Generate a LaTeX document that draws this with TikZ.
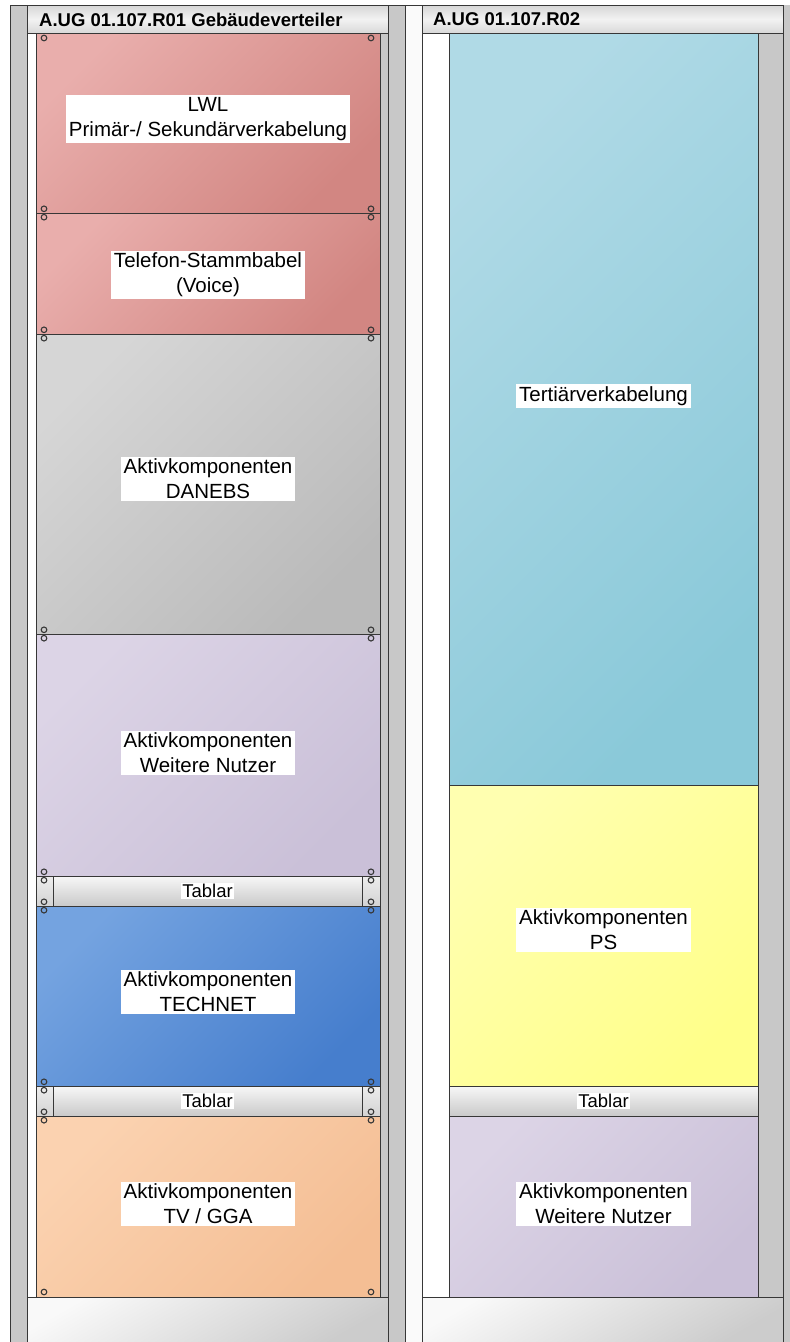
\documentclass[tikz,border=0pt]{standalone}
\usepackage{fontspec}
\setmainfont{Liberation Sans}
\usepackage{xcolor}
\usepackage{tikz}
\usetikzlibrary{calc}
\definecolor{edgegray}{RGB}{55, 55, 55}
\definecolor{postgray}{RGB}{200, 200, 200}
\definecolor{redlight}{RGB}{233, 174, 172}
\definecolor{reddark}{RGB}{210, 134, 130}
\definecolor{greylight}{RGB}{214, 214, 214}
\definecolor{greydark}{RGB}{186, 186, 186}
\definecolor{lilaclight}{RGB}{220, 212, 230}
\definecolor{lilacdark}{RGB}{202, 192, 216}
\definecolor{bluelight}{RGB}{116, 163, 224}
\definecolor{bluedark}{RGB}{70, 126, 205}
\definecolor{orangelight}{RGB}{251, 210, 176}
\definecolor{orangedark}{RGB}{244, 190, 148}
\definecolor{teallight}{RGB}{176, 218, 230}
\definecolor{tealdark}{RGB}{138, 201, 217}
\definecolor{yellowlight}{RGB}{255, 255, 176}
\definecolor{yellowdark}{RGB}{255, 255, 138}

\begin{document}
\begin{tikzpicture}[x=1pt, y=-1pt,
    panel/.style={draw=edgegray, line width=1pt, inner sep=0pt},
    leftpanel/.style={panel, minimum width=344pt},
    rightpanel/.style={panel, minimum width=309pt},
    tilt/.style={shading angle=45},
    caption/.style={fill=white, inner xsep=3pt, inner ysep=2pt, align=center, text=black,
        font=\fontsize{20.5}{25}\selectfont},
    tablarlabel/.style={fill=white, inner sep=1.5pt, text=black, font=\fontsize{18.5}{20}\selectfont},
    tablar/.style={draw=edgegray, line width=1pt, inner sep=0pt, minimum height=30pt,
        top color=gray!6, bottom color=gray!42},
    header/.style={draw=edgegray, line width=1pt, inner sep=0pt, minimum width=361pt, minimum height=28pt,
        top color=gray!32, bottom color=gray!30, middle color=gray!10},
    headertext/.style={anchor=west, inner sep=0pt, font=\fontsize{18.5}{20}\selectfont\bfseries},
    base/.style={draw=edgegray, line width=1pt, inner sep=0pt, minimum width=361pt, minimum height=45pt,
        top color=gray!5, bottom color=gray!40, shading angle=30},
    screw/.style={draw=edgegray, line width=1.1pt}]

    \useasboundingbox (0,0) rectangle (790,1342);
    \fill[white] (0,0) rectangle (790,1342);

    % Rack posts
    \draw[edgegray, line width=1pt, fill=postgray] (10,5) rectangle (27,1342);
    \draw[edgegray, line width=1pt, fill=postgray] (388,5) rectangle (405,1342);
    \draw[edgegray, line width=1pt, fill=gray!4] (405,5) rectangle (422,1342);
    \fill[postgray] (783,5) rectangle (790,1342);
    \draw[edgegray, line width=1pt] (783,5) -- (783,1342);

    % Mounting strips
    \draw[edgegray, line width=0.6pt, fill=white] (27,33) rectangle (36,1297);
    \draw[edgegray, line width=0.6pt, fill=postgray] (380,33) rectangle (388,1297);
    \draw[edgegray, line width=0.6pt, fill=white] (422,33) rectangle (449,1297);
    \draw[edgegray, line width=0.6pt, fill=postgray] (758,33) rectangle (783,1297);

    % Headers
    \node[header] (hdrA) at (207.5,19) {};
    \node[headertext] (titleA) at (39,19.5) {A.UG 01.107.R01 Gebäudeverteiler};
    \node[header] (hdrB) at (602.5,19) {};
    \node[headertext] (titleB) at (433,19.5) {A.UG 01.107.R02};

    % Rack R01
    \node[leftpanel, top color=redlight, bottom color=reddark, tilt, minimum height=180pt] (lwl) at (208,123) {};
    \node[caption] (lwlText) at (208,119) {LWL\\Primär-/ Sekundärverkabelung};

    \node[leftpanel, top color=redlight, bottom color=reddark, tilt, minimum height=121pt] (voice) at (208,273.5) {};
    \node[caption] (voiceText) at (208,275) {Telefon-Stammbabel\\(Voice)};

    \node[leftpanel, top color=greylight, bottom color=greydark, tilt, minimum height=300pt] (danebs) at (208,484) {};
    \node[caption] (danebsText) at (208,479) {Aktivkomponenten\\DANEBS};

    \node[leftpanel, top color=lilaclight, bottom color=lilacdark, tilt, minimum height=242pt] (nutzerA) at (208,755) {};
    \node[caption] (nutzerAText) at (208,753) {Aktivkomponenten\\Weitere Nutzer};

    \node[tablar, minimum width=344pt, top color=gray!14, bottom color=gray!34] (tablarA) at (208,891) {};
    \node[tablar, minimum width=309pt] (barA) at (207.5,891) {};
    \node[tablarlabel] (tablarAText) at (barA) {Tablar};

    \node[leftpanel, top color=bluelight, bottom color=bluedark, tilt, minimum height=180pt] (technet) at (208,996) {};
    \node[caption] (technetText) at (208,992) {Aktivkomponenten\\TECHNET};

    \node[tablar, minimum width=344pt, top color=gray!14, bottom color=gray!34] (tablarB) at (208,1101) {};
    \node[tablar, minimum width=309pt] (barB) at (207.5,1101) {};
    \node[tablarlabel] (tablarBText) at (barB) {Tablar};

    \node[leftpanel, top color=orangelight, bottom color=orangedark, tilt, minimum height=181pt] (tvgga) at (208,1206.5) {};
    \node[caption] (tvggaText) at (208,1204) {Aktivkomponenten\\TV / GGA};

    \node[base] (baseA) at (207.5,1319.5) {};

    % Screws
    \foreach \x in {44,371} {
        \draw[screw] (\x,38) circle[radius=2.8pt];
        \draw[screw] (\x,1292) circle[radius=2.8pt];
        \foreach \y in {213,334,634,876,906,1086,1116} {
            \draw[screw] (\x,\y-4.2) circle[radius=2.8pt] (\x,\y+4.2) circle[radius=2.8pt];
        }
    }

    % Rack R02
    \node[rightpanel, top color=teallight, bottom color=tealdark, tilt, minimum height=752pt] (tertiaer) at (603.5,409) {};
    \node[caption] (tertiaerText) at (603.5,396) {Tertiärverkabelung};

    \node[rightpanel, top color=yellowlight, bottom color=yellowdark, tilt, minimum height=301pt] (ps) at (603.5,935.5) {};
    \node[caption] (psText) at (603.5,930) {Aktivkomponenten\\PS};

    \node[tablar, minimum width=309pt] (tablarC) at (603.5,1101) {};
    \node[tablarlabel] (tablarCText) at (tablarC) {Tablar};

    \node[rightpanel, top color=lilaclight, bottom color=lilacdark, tilt, minimum height=181pt] (nutzerB) at (603.5,1206.5) {};
    \node[caption] (nutzerBText) at (603.5,1204) {Aktivkomponenten\\Weitere Nutzer};

    \node[base] (baseB) at (602.5,1319.5) {};
\end{tikzpicture}
\end{document}
